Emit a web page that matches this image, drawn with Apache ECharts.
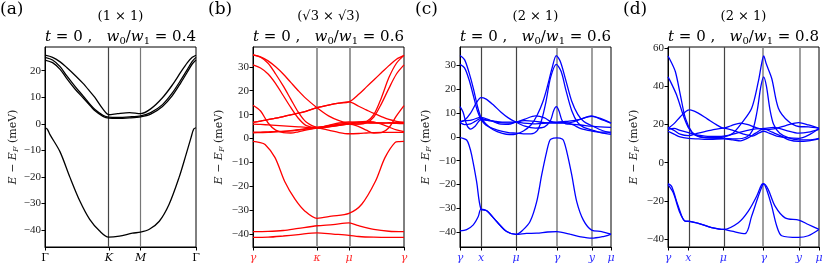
<!DOCTYPE html>
<html><head><meta charset="utf-8">
<script src="https://cdn.jsdelivr.net/npm/echarts@6/dist/echarts.min.js"></script>
<style>html,body{margin:0;padding:0;background:#fff}#c{width:830px;height:270px}</style>
</head><body><div id="c"></div>
<script>
// ---------------- DATA ----------------
// Panel (a)  1x1, w0/w1 = 0.4
const aTickPos = [0, 0.423, 0.634, 1];
const aTickLabels = ['Γ', 'K', 'M', 'Γ'];
const aYTicks = [-40, -30, -20, -10, 0, 10, 20];
const aYRange = [-46.4, 28.9];
const aBandLow = [[0,-1.5],[0.015,-2],[0.033,-4.1],[0.099,-10.5],[0.164,-20],[0.23,-29],[0.296,-36],[0.362,-40.4],[0.421,-42.7],[0.493,-42.3],[0.579,-41.2],[0.632,-40.8],[0.691,-39.7],[0.757,-36.7],[0.822,-30.3],[0.888,-20.2],[0.934,-11.6],[0.967,-5.2],[0.985,-2],[1,-1.5]];
const aBandU1 = [[0,25.8],[0.05,25],[0.1,23.3],[0.142,21.3],[0.2,18.2],[0.252,15.2],[0.3,12],[0.329,10],[0.384,5.5],[0.423,3.4],[0.48,3.8],[0.56,4.2],[0.634,3.8],[0.7,5.6],[0.778,9.8],[0.842,14.5],[0.9,19.5],[0.943,23],[0.975,25],[1,25.8]];
const aBandU2 = [[0,25],[0.05,24],[0.1,21.5],[0.142,18.2],[0.2,14],[0.252,10.5],[0.3,7.2],[0.329,5.5],[0.384,3.2],[0.423,2.5],[0.48,2.4],[0.56,2.6],[0.634,3.0],[0.7,4.2],[0.778,7.2],[0.842,11.5],[0.9,16.5],[0.943,20.5],[0.975,23.5],[1,25]];
const aBandU3 = [[0,24],[0.05,23],[0.1,20.5],[0.142,17.2],[0.2,13],[0.252,9.8],[0.3,6.8],[0.329,5],[0.384,2.8],[0.423,2.1],[0.48,2],[0.56,2.2],[0.634,2.6],[0.7,3.6],[0.778,6.5],[0.842,10.5],[0.9,15.5],[0.943,19.5],[0.975,22.5],[1,24]];

// Panel (b)  sqrt3 x sqrt3, w0/w1 = 0.6
const bTickPos = [0, 0.424, 0.636, 1];
const bTickLabels = ['γ', 'κ', 'μ', 'γ'];
const bYTicks = [-40, -30, -20, -10, 0, 10, 20, 30];
const bYRange = [-45.4, 38.3];
const bBandL1 = [[0,-1.2],[0.04,-1.6],[0.08,-2.5],[0.146,-8],[0.21,-18],[0.278,-25.4],[0.344,-30.4],[0.424,-33.4],[0.52,-32.5],[0.636,-31.3],[0.72,-27.5],[0.81,-18],[0.874,-8],[0.94,-1.7],[0.97,-1.3],[1,-1.2]];
const bBandL2 = [[0,-39],[0.1,-38.9],[0.2,-38.5],[0.3,-37.6],[0.424,-36.5],[0.53,-36],[0.636,-35.3],[0.7,-36.5],[0.8,-38],[0.9,-38.8],[1,-39]];
const bBandL3 = [[0,-41.4],[0.1,-41.3],[0.2,-40.8],[0.3,-40.2],[0.424,-39.5],[0.53,-40],[0.636,-40.5],[0.7,-41],[0.8,-41.3],[0.9,-41.4],[1,-41.4]];
const bUpperX = [0, 0.05, 0.1, 0.15, 0.2, 0.25, 0.3, 0.35, 0.424, 0.5, 0.57, 0.636, 0.7, 0.75, 0.8, 0.85, 0.9, 0.95, 1];
const bU1 = [6.8, 7.3, 7.9, 8.5, 9.2, 9.9, 10.6, 11.4, 12.9, 14, 14.8, 15.3, 18.5, 21.5, 24.5, 27.5, 30.5, 33.2, 34.8];
const bU2 = [35, 34.2, 32.5, 30, 27, 23.5, 20, 16.8, 12.9, 9.5, 7.5, 6.3, 6, 7, 10, 17, 25.5, 31.5, 34.8];
const bU3 = [35, 34, 31.5, 27, 22, 16.5, 11, 7, 4.8, 5, 5.5, 6, 6, 6.5, 9, 14.5, 21, 27, 30.8];
const bU4 = [30.8, 29.5, 27, 23, 18, 13, 8.5, 5.5, 4.5, 5.5, 6.5, 7, 6.8, 6.6, 6.5, 6.5, 6.6, 6.7, 6.8];
const bU5 = [6.8, 7.3, 7.9, 8.5, 9.2, 9.9, 10.6, 11.4, 12.9, 14, 14.8, 15.3, 13.5, 12, 10.5, 9.2, 8, 7.2, 6.6];
const bU6 = [13.9, 11.5, 6.5, 3.5, 2.5, 2.3, 2.8, 3.5, 4.4, 4.8, 5.5, 6, 5, 3.5, 2.3, 2.5, 4.5, 9.5, 13.8];
const bU7 = [6.0, 5.9, 5.7, 5.5, 5.3, 5.1, 4.9, 4.7, 4.5, 5.2, 5.8, 6.3, 6.5, 6.6, 6.6, 6.5, 6.4, 6.3, 6.2];
const bU8 = [2.7, 2.7, 2.8, 2.9, 3.0, 3.2, 3.5, 3.9, 4.4, 3.5, 2.5, 2.0, 2.1, 2.3, 2.5, 2.6, 2.6, 2.6, 2.6];
const bU9 = [2.4, 2.5, 2.6, 2.8, 3.0, 3.3, 3.7, 4.1, 4.6, 5.3, 6.0, 6.5, 7.0, 7.2, 7.0, 6.0, 4.8, 3.6, 2.9];

// Panel (c)  2x1, w0/w1 = 0.6
const cTickPos = [0, 0.139, 0.371, 0.642, 0.874, 1];
const cTickLabels = ['γ', 'x', 'μ', 'γ', 'y', 'μ'];
const cYTicks = [-40, -30, -20, -10, 0, 10, 20, 30];
const cYRange = [-46.3, 37.8];
const cL1 = [[0,-0.3],[0.02,-0.6],[0.044,-1.3],[0.06,-3.5],[0.077,-7.6],[0.11,-18.8],[0.139,-30.4],[0.177,-31.1],[0.243,-35.6],[0.309,-39.8],[0.371,-41],[0.419,-39],[0.464,-35.6],[0.508,-27.2],[0.541,-16],[0.574,-6.2],[0.596,-1.3],[0.62,-0.5],[0.641,-0.4],[0.662,-0.5],[0.684,-1.3],[0.707,-6.2],[0.74,-16],[0.773,-27.2],[0.817,-35],[0.872,-39.2],[0.938,-39.8],[1,-40.9]];
const cL2 = [[0,-39.5],[0.044,-39],[0.088,-37],[0.121,-33.5],[0.139,-30.4],[0.177,-31.1],[0.243,-35.6],[0.309,-39.8],[0.371,-41],[0.44,-40.6],[0.508,-40.5],[0.58,-40],[0.641,-39.8],[0.728,-40.9],[0.8,-42],[0.872,-42.6],[0.949,-41.9],[1,-41]];
const cU1 = [[0,34.2],[0.03,32.5],[0.06,27],[0.09,20],[0.115,13],[0.139,8.2],[0.17,5.5],[0.22,3],[0.28,1.5],[0.33,1],[0.371,1.2],[0.42,2.5],[0.47,5],[0.51,9],[0.55,15],[0.58,21.5],[0.61,29],[0.638,34.2],[0.665,31.6],[0.7,24],[0.74,15],[0.78,9.5],[0.82,6.5],[0.87,4.8],[0.93,3],[1,1.6]];
const cU2 = [[0,30.5],[0.03,29],[0.06,24],[0.09,17],[0.115,11],[0.139,7.5],[0.17,5],[0.22,3.5],[0.28,2.3],[0.33,1.7],[0.371,1.6],[0.42,1.3],[0.47,1.3],[0.51,2.5],[0.54,7],[0.57,15],[0.6,25],[0.638,30.5],[0.67,27.5],[0.7,20],[0.74,11],[0.78,6],[0.82,4],[0.87,3],[0.93,1.8],[1,1.1]];
const cU3 = [[0,12.7],[0.02,10.5],[0.045,5],[0.07,3.3],[0.1,4.5],[0.139,7.2],[0.2,6.8],[0.26,6],[0.32,5.8],[0.371,6.2],[0.43,7.5],[0.5,8.8],[0.56,8],[0.6,6.5],[0.638,6.2],[0.7,6.5],[0.75,6.8],[0.8,7.5],[0.87,8.8],[0.93,7.5],[1,5.8]];
const cU4 = [[0,6.2],[0.03,7],[0.07,10],[0.11,14.5],[0.139,16.5],[0.17,16],[0.22,13.5],[0.27,10.5],[0.32,8],[0.371,6.2],[0.43,4.5],[0.5,3.7],[0.56,4.2],[0.6,7],[0.62,11],[0.638,12.7],[0.655,11],[0.675,7],[0.7,5.5],[0.75,5.3],[0.8,5],[0.87,4.5],[0.93,4.2],[1,4]];
const cU5 = [[0,6.0],[0.03,5.2],[0.07,5.5],[0.1,6.5],[0.139,7.8],[0.18,7],[0.24,6.5],[0.3,6.2],[0.371,6.2],[0.42,5.8],[0.5,5.5],[0.58,5.8],[0.638,6],[0.7,6],[0.75,5],[0.8,3.5],[0.87,2.5],[0.93,2],[1,2]];
const cU6 = [[0,6.5],[0.04,6.8],[0.08,7.2],[0.139,8.2],[0.2,7],[0.26,5.5],[0.32,5.3],[0.371,6.2],[0.43,6.8],[0.5,6.5],[0.56,6],[0.638,5.8],[0.7,5.8],[0.75,6.3],[0.8,7.5],[0.87,8.6],[0.93,7.8],[1,5.8]];

// Panel (d)  2x1, w0/w1 = 0.8
const dTickPos = [0, 0.135, 0.367, 0.634, 0.866, 1];
const dTickLabels = ['γ', 'x', 'μ', 'γ', 'y', 'μ'];
const dYTicks = [-40, -20, 0, 20, 40, 60];
const dYRange = [-44.2, 60.7];
const dL1 = [[0,-11],[0.024,-12.4],[0.068,-22.8],[0.113,-30.6],[0.135,-30.6],[0.201,-31.8],[0.289,-34],[0.367,-35],[0.466,-31.5],[0.532,-25.4],[0.587,-17.6],[0.62,-11.5],[0.634,-11],[0.664,-14.1],[0.709,-22.8],[0.775,-28.9],[0.866,-30.1],[0.929,-32.4],[1,-35]];
const dL2 = [[0,-11.5],[0.035,-15.8],[0.079,-26.3],[0.113,-30.6],[0.135,-30.8],[0.201,-31.8],[0.289,-34],[0.367,-35],[0.422,-35.9],[0.51,-37.2],[0.554,-28],[0.598,-17.6],[0.627,-11.5],[0.634,-11.2],[0.653,-14],[0.687,-22.8],[0.72,-33.2],[0.753,-38.3],[0.863,-39.2],[0.929,-38.3],[1,-35]];
const dU1 = [[0,56],[0.02,53],[0.049,47.7],[0.082,35.5],[0.115,23.4],[0.159,16],[0.2,14],[0.28,13.2],[0.367,13.5],[0.43,15.5],[0.488,20.8],[0.554,28.6],[0.598,42.5],[0.62,52],[0.634,56],[0.65,52],[0.687,44.2],[0.731,28.6],[0.797,21.7],[0.866,19],[0.93,18.8],[1,18.1]];
const dU2 = [[0,45],[0.02,42],[0.057,35.5],[0.104,24.2],[0.137,18.1],[0.18,14.5],[0.25,13],[0.367,12.8],[0.45,12.5],[0.52,13.5],[0.56,17],[0.59,27],[0.615,40],[0.634,45],[0.652,40],[0.675,28],[0.7,20],[0.74,15.5],[0.8,13],[0.866,12],[0.93,12],[1,12.8]];
const dU3 = [[0,18],[0.04,20.5],[0.08,24],[0.12,27],[0.145,27.7],[0.2,26],[0.26,23],[0.32,20],[0.367,18.2],[0.42,19.5],[0.48,20.8],[0.53,20],[0.58,18.5],[0.634,17.5],[0.7,17.8],[0.78,19.5],[0.84,20.8],[0.866,21],[0.93,19.8],[1,18]];
const dU4 = [[0,18.5],[0.04,17],[0.08,15],[0.135,14.2],[0.2,15.5],[0.28,17],[0.367,18.2],[0.43,17],[0.5,15],[0.56,14],[0.6,15.5],[0.634,16.5],[0.67,15.5],[0.72,14],[0.8,13],[0.866,12.8],[0.93,14.5],[1,18]];
const dU5 = [[0,16.5],[0.04,15],[0.08,13.5],[0.135,12.8],[0.2,12.5],[0.28,12.2],[0.367,12.5],[0.43,12],[0.48,11.5],[0.53,13],[0.58,15.5],[0.634,17.8],[0.69,16],[0.75,14],[0.8,12],[0.866,11.2],[0.93,11.5],[1,12.5]];
const dU6 = [[0,17.5],[0.04,18],[0.08,17],[0.135,15.8],[0.2,14.5],[0.28,13.8],[0.367,14],[0.43,15],[0.5,16.5],[0.56,17.5],[0.634,18],[0.7,18.5],[0.78,17],[0.866,15.5],[0.93,16],[1,17.5]];

const panelTags = ['(a)', '(b)', '(c)', '(d)'];
const cellTitles = ['(1 × 1)', '(√3 × √3)', '(2 × 1)', '(2 × 1)'];
const ratios = ['0.4', '0.6', '0.6', '0.8'];

// ---------------- BUILD ----------------
const SERIF = "'DejaVu Serif', serif";
const NUM = "'Liberation Serif', serif";
const gridLefts = [45, 253, 460, 668];
const gridW = 151, gridTop = 47, gridH = 200;
const bandColors = ['#000000', '#ff0000', '#0000ff', '#0000ff'];
const labelColors = ['#000000', '#ff3030', '#3030ff', '#3030ff'];

const zipX = (xs, ys) => xs.map((x, i) => [x, ys[i]]);
const panels = [
  { pos: aTickPos, labels: aTickLabels, yt: aYTicks, yr: aYRange, bands: [aBandLow, aBandU1, aBandU2, aBandU3],
    vcol: ['#444', '#777'], vw: [1.2, 1.2] },
  { pos: bTickPos, labels: bTickLabels, yt: bYTicks, yr: bYRange,
    bands: [bBandL1, bBandL2, bBandL3].concat([bU1, bU2, bU3, bU4, bU5, bU6, bU7, bU8, bU9].map(v => zipX(bUpperX, v))),
    vcol: ['#999', '#999'], vw: [2, 2] },
  { pos: cTickPos, labels: cTickLabels, yt: cYTicks, yr: cYRange, bands: [cL1, cL2, cU1, cU2, cU3, cU4, cU5, cU6],
    vcol: ['#444', '#444', '#888', '#888'], vw: [1.2, 1.2, 1.6, 1.6] },
  { pos: dTickPos, labels: dTickLabels, yt: dYTicks, yr: dYRange, bands: [dL1, dL2, dU1, dU2, dU3, dU4, dU5, dU6],
    vcol: ['#444', '#444', '#888', '#888'], vw: [1.2, 1.2, 1.6, 1.6] }
];

const grid = [], xAxis = [], yAxis = [], series = [], title = [];
panels.forEach((p, i) => {
  const left = gridLefts[i];
  grid.push({ left: left, top: gridTop, width: gridW, height: gridH, show: true, borderColor: '#000', borderWidth: 1, backgroundColor: 'transparent' });
  const lc = labelColors[i];
  xAxis.push({
    gridIndex: i, type: 'value', min: 0, max: 1,
    splitLine: { show: false },
    axisLine: { show: true, onZero: false, lineStyle: { color: '#000', width: 1 } },
    axisTick: { show: true, customValues: p.pos, length: 3.5, inside: false, lineStyle: { color: '#000', width: 1 } },
    axisLabel: {
      customValues: p.pos, margin: 6,
      formatter: function (v) {
        let k = 0, best = 9;
        p.pos.forEach((q, j) => { if (Math.abs(q - v) < best) { best = Math.abs(q - v); k = j; } });
        const s = p.labels[k];
        return s === 'Γ' ? '{u|' + s + '}' : '{it|' + s + '}';
      },
      rich: {
        u: { fontFamily: SERIF, fontSize: 11, color: lc },
        it: { fontFamily: SERIF, fontSize: 11, fontStyle: 'italic', color: lc }
      }
    }
  });
  yAxis.push({
    gridIndex: i, type: 'value', min: p.yr[0], max: p.yr[1],
    splitLine: { show: false },
    axisLine: { show: true, onZero: false, lineStyle: { color: '#000', width: 1 } },
    axisTick: { show: true, customValues: p.yt, length: 3.5, lineStyle: { color: '#000', width: 1 } },
    axisLabel: {
      customValues: p.yt, margin: 4, color: '#222', fontFamily: NUM, fontSize: 11,
      formatter: v => String(v).replace('-', '−')
    },
    name: '{i|E} − {i|E}{s|F} (meV)',
    nameLocation: 'middle', nameRotate: 90, nameGap: i === 0 ? 25 : 27,
    nameTextStyle: {
      color: '#222', fontFamily: SERIF, fontSize: 11,
      rich: {
        i: { fontFamily: SERIF, fontSize: 11, fontStyle: 'italic', color: '#222', lineHeight: 14 },
        s: { fontFamily: SERIF, fontSize: 8, fontStyle: 'italic', color: '#222', lineHeight: 8, verticalAlign: 'bottom' }
      }
    }
  });
  p.bands.forEach((b, j) => {
    const s = {
      type: 'line', xAxisIndex: i, yAxisIndex: i, data: b,
      symbol: 'none', showSymbol: false, smooth: 0.3,
      lineStyle: { color: bandColors[i], width: 1.3 }, silent: true, clip: true, z: 3
    };
    if (j === 0) {
      s.markLine = {
        silent: true, symbol: ['none', 'none'], label: { show: false }, animation: false, z: 2,
        data: p.pos.slice(1, -1).map((x, k) => ({ xAxis: x, lineStyle: { color: p.vcol[k], width: p.vw[k], type: 'solid' } }))
      };
    }
    series.push(s);
  });
  const cx = left + gridW / 2;
  title.push({ text: panelTags[i], left: left - 45, top: 1, padding: 0, textStyle: { fontFamily: SERIF, fontSize: 17, fontWeight: 'normal', color: '#000' } });
  title.push({ text: cellTitles[i], left: cx, top: 10, padding: 0, textAlign: 'center', textStyle: { fontFamily: SERIF, fontSize: 13, fontWeight: 'normal', color: '#000' } });
  title.push({
    text: '{i|t} = 0 ,   {i|w}{s|0}/{i|w}{s|1} = ' + ratios[i], left: cx, top: 28, padding: 0, textAlign: 'center',
    textStyle: {
      fontFamily: SERIF, fontSize: 15, fontWeight: 'normal', color: '#000',
      rich: {
        i: { fontFamily: SERIF, fontSize: 15, fontStyle: 'italic', color: '#000', lineHeight: 18 },
        s: { fontFamily: SERIF, fontSize: 10, color: '#000', lineHeight: 10, verticalAlign: 'bottom' }
      }
    }
  });
});

const chart = echarts.init(document.getElementById('c'), null, { renderer: 'canvas' });
chart.setOption({ animation: false, backgroundColor: '#fff', title, grid, xAxis, yAxis, series });
</script></body></html>
